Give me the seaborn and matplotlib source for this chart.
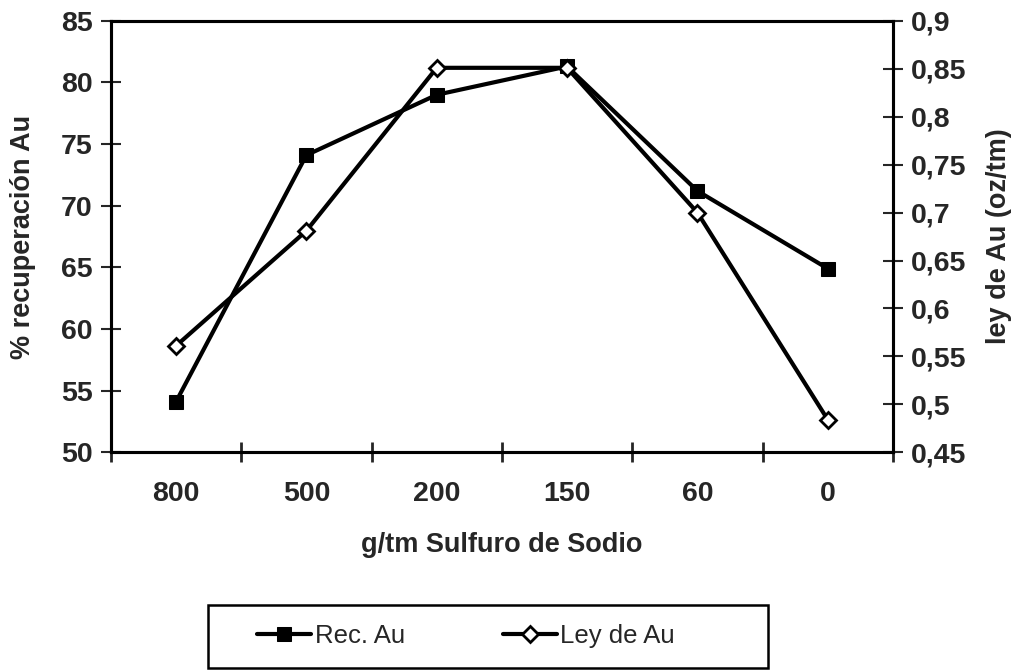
import matplotlib
matplotlib.use("Agg")
import matplotlib.pyplot as plt
import seaborn as sns
import pandas as pd
from matplotlib.ticker import FixedLocator, FuncFormatter
from matplotlib.patches import Rectangle

categories = ["800", "500", "200", "150", "60", "0"]
rec_au = [54.1, 74.1, 79.0, 81.3, 71.2, 64.9]
ley_au = [0.561, 0.681, 0.851, 0.851, 0.700, 0.484]
left_ticks = [50, 55, 60, 65, 70, 75, 80, 85]
right_ticks = [0.45, 0.5, 0.55, 0.6, 0.65, 0.7, 0.75, 0.8, 0.85, 0.9]

sns.set_style("white")
plt.rcParams['font.family'] = ['Liberation Sans', 'DejaVu Sans']

df = pd.DataFrame({"pos": range(len(categories)), "cat": categories,
                   "rec": rec_au, "ley": ley_au})

fig = plt.figure(figsize=(10.17, 6.72), dpi=100)
ax = fig.add_axes([0.109, 0.327, 0.769, 0.642])
ax2 = ax.twinx()

sns.lineplot(data=df, x="pos", y="rec", ax=ax, color="black", lw=3,
             marker="s", markersize=10.5, markeredgecolor="black",
             markerfacecolor="black", label="Rec. Au", legend=False)
sns.lineplot(data=df, x="pos", y="ley", ax=ax2, color="black", lw=3,
             marker="D", markersize=8, markeredgecolor="black",
             markerfacecolor="white", markeredgewidth=2,
             label="Ley de Au", legend=False)

ax.set_xlim(-0.5, len(categories) - 0.5)
ax.set_ylim(50, 85)
ax2.set_ylim(0.45, 0.9)
ax.set_yticks(left_ticks)
ax2.set_yticks(right_ticks)
ax2.yaxis.set_major_formatter(FuncFormatter(lambda v, p: ("%g" % v).replace(".", ",")))

FS = 20.5
ax.set_xticks(range(len(categories)))
ax.set_xticklabels(categories)
ax.xaxis.set_minor_locator(FixedLocator([i + 0.5 for i in range(-1, len(categories))]))
ax.tick_params(axis="x", which="major", length=0, pad=21, labelsize=FS)
ax.tick_params(axis="x", which="minor", length=14, width=2, direction="inout", bottom=True)
ax.tick_params(axis="y", length=14, width=1.5, direction="inout", labelsize=FS, left=True, pad=6)
ax2.tick_params(axis="y", length=14, width=1.5, direction="inout", labelsize=FS, right=True, pad=6)
for t in ax.get_xticklabels() + ax.get_yticklabels() + ax2.get_yticklabels():
    t.set_fontweight("bold")

for a in (ax, ax2):
    for s in a.spines.values():
        s.set_color("black")
        s.set_linewidth(2.2)

ax.set_xlabel("g/tm Sulfuro de Sodio", fontsize=19.5, fontweight="bold", labelpad=18)
ax.set_ylabel("% recuperación Au", fontsize=19.5, fontweight="bold", labelpad=18)
ax2.set_ylabel("ley de Au (oz/tm)", fontsize=19.5, fontweight="bold", labelpad=14)

# legend box
fig.patches.append(Rectangle((208 / 1017, 1 - 668 / 672), 560 / 1017, 63 / 672,
                             transform=fig.transFigure, facecolor="white",
                             edgecolor="black", linewidth=1.8, zorder=0))
h1, l1 = ax.get_legend_handles_labels()
h2, l2 = ax2.get_legend_handles_labels()
leg = fig.legend(h1 + h2, l1 + l2, loc="center", ncol=2,
                 bbox_to_anchor=(466 / 1017, 1 - 636 / 672),
                 fontsize=18.5, frameon=False, handlelength=2.1,
                 handletextpad=0.15, columnspacing=3.8, borderaxespad=0)

fig.savefig("out.png", dpi=100)
